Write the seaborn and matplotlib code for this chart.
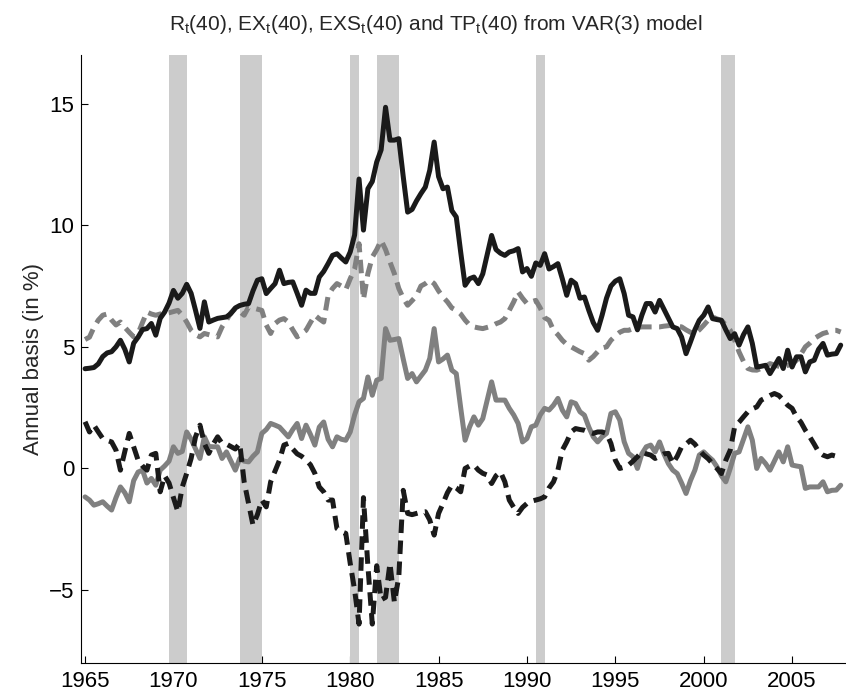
import numpy as np
import pandas as pd
import seaborn as sns
import matplotlib.pyplot as plt

# quarterly data, 1965Q1 - 2007Q4
years = np.arange(1965, 2008)
quarters = [0.0, 0.25, 0.5, 0.75]

r40 = [4.1, 4.12, 4.15, 4.3,  4.6, 4.75, 4.8, 5.0,  5.27, 4.9, 4.38, 5.15,
       5.4, 5.71, 5.75, 5.96,  5.48, 6.17, 6.43, 6.8,  7.32, 7.0, 7.2, 7.57,
       7.2, 6.5, 5.76, 6.85,  6.02, 6.1, 6.17, 6.2,  6.23, 6.37, 6.6, 6.7,
       6.75, 6.78, 7.3, 7.74,  7.8, 7.19, 7.4, 7.6,  8.15, 7.6, 7.65, 7.67,
       7.2, 6.71, 7.33, 7.2,  7.2, 7.87, 8.1, 8.42,  8.76, 8.83, 8.65, 8.49,
       8.9, 9.6, 11.9, 9.8,  11.5, 11.8, 12.6, 13.1,  14.85, 13.5, 13.5, 13.56,
       12.0, 10.54, 10.65, 11.0,  11.3, 11.57, 12.26, 13.42,  12.0, 11.5, 11.57, 10.6,
       10.34, 8.9, 7.53, 7.8,  7.87, 7.6, 8.0, 8.8,  9.58, 9.0, 8.85, 8.76,
       8.9, 8.95, 9.04, 8.08,  8.22, 7.9, 8.45, 8.35,  8.83, 8.2, 8.3, 8.42,
       7.8, 7.12, 7.74, 7.6,  7.0, 7.05, 6.5, 6.0,  5.68, 6.3, 7.0, 7.5,
       7.7, 7.8, 7.19, 6.3,  6.23, 5.7, 6.3, 6.78,  6.78, 6.43, 6.91, 6.55,
       6.2, 5.82, 5.75, 5.4,  4.72, 5.2, 5.7, 6.09,  6.3, 6.64, 6.16, 6.12,
       6.09, 5.7, 5.34, 5.54,  5.07, 5.5, 5.82, 5.14,  4.17, 4.2, 4.24, 3.9,
       4.2, 4.52, 4.11, 4.86,  4.17, 4.59, 4.59, 3.97,  4.38, 4.45, 4.9, 5.14,
       4.66, 4.7, 4.72, 5.07]

ex40 = [5.3, 5.4, 5.8, 6.1,  6.3, 6.35, 6.1, 5.9,  6.02, 5.8, 5.6, 5.41,
        5.55, 6.0, 6.43, 6.35,  6.3, 6.35, 6.37, 6.4,  6.45, 6.5, 6.3, 6.02,
        5.68, 5.5, 5.41, 5.55,  5.5, 5.45, 5.41, 5.82,  6.1, 6.4, 6.57, 6.45,
        6.3, 6.64, 6.6, 6.55,  6.5, 5.9, 5.55, 5.96,  6.1, 6.16, 6.02, 5.7,
        5.41, 5.55, 5.68, 6.0,  6.3, 6.15, 6.02, 7.1,  7.4, 7.6, 7.5, 7.35,
        7.8, 8.2, 9.24, 6.95,  8.01, 8.69, 9.0, 9.38,  9.0, 8.49, 8.01, 7.4,
        7.0, 6.71, 6.9, 7.1,  7.5, 7.6, 7.74, 7.6,  7.3, 7.05, 6.85, 6.6,
        6.5, 6.35, 6.1, 5.9,  5.82, 5.78, 5.75, 5.8,  5.85, 5.95, 6.02, 6.16,
        6.5, 6.85, 7.26, 7.0,  6.78, 6.85, 6.91, 6.6,  6.2, 6.09, 5.68, 5.5,
        5.27, 5.1, 5.0, 4.9,  4.8, 4.72, 4.45, 4.6,  4.8, 4.95, 5.0, 5.27,
        5.45, 5.6, 5.68, 5.68,  5.75, 5.8, 5.82, 5.82,  5.82, 5.82, 5.82, 5.85,
        5.87, 5.89, 5.85, 5.82,  5.7, 5.6, 5.55, 5.7,  5.89, 6.1, 6.23, 6.15,
        6.09, 5.9, 5.68, 5.27,  4.79, 4.4, 4.11, 4.05,  4.04, 4.11, 4.2, 4.31,
        4.25, 4.2, 4.17, 4.24,  4.3, 4.45, 4.7, 5.0,  5.15, 5.34, 5.45, 5.55,
        5.6, 5.68, 5.68, 5.61]

exs40 = [1.92, 1.5, 1.78, 1.5,  1.23, 1.15, 1.09, 0.75,  -0.07, 0.7, 1.44, 0.89,
         0.34, 0.1, -0.07, 0.55,  0.62, -0.96, -0.3, -0.6,  -1.2, -1.78, -0.76, -0.2,
         0.41, 1.3, 1.78, 1.03,  0.62, 1.0, 1.3, 1.03,  1.0, 0.9, 0.8, 1.03,
         -0.55, -1.44, -2.33, -1.9,  -1.3, -1.58, -0.55, -0.1,  0.34, 0.96, 1.03, 0.8,
         0.6, 0.5, 0.35, 0.15,  -0.2, -0.76, -0.96, -1.3,  -1.3, -2.47, -2.6, -2.67,
         -3.9, -5.0, -6.4, -1.2,  -4.0, -6.4, -4.0, -5.4,  -5.3, -3.9, -5.5, -4.45,
         -0.9, -1.85, -1.9, -1.85,  -1.8, -1.78, -2.12, -2.74,  -1.85, -1.44, -1.0, -0.69,
         -0.8, -0.96, 0.0, 0.1,  0.14, -0.07, -0.2, -0.27,  -0.62, -0.3, -0.14, -0.55,
         -1.3, -1.6, -1.85, -1.6,  -1.44, -1.35, -1.3, -1.25,  -1.17, -0.8, -0.55, -0.07,
         0.75, 1.09, 1.5, 1.64,  1.6, 1.57, 1.5, 1.44,  1.5, 1.5, 1.44, 1.03,
         0.34, 0.0, 0.05, 0.14,  0.3, 0.48, 0.68, 0.6,  0.55, 0.41, 0.5, 0.6,
         0.62, 0.2, 0.5, 0.89,  1.0, 1.16, 1.0, 0.75,  0.55, 0.4, 0.2, 0.0,
         -0.21, 0.34, 0.75, 1.71,  1.9, 2.12, 2.33, 2.45,  2.53, 2.81, 2.9, 3.0,
         3.08, 3.0, 2.81, 2.6,  2.47, 2.12, 1.9, 1.57,  1.3, 1.0, 0.68, 0.55,
         0.48, 0.55, 0.5, 0.5]

tp40 = [-1.17, -1.3, -1.51, -1.45,  -1.37, -1.55, -1.71, -1.2,  -0.76, -1.0, -1.37, -0.5,
        -0.15, -0.07, -0.6, -0.41,  -0.69, -0.07, 0.1, 0.3,  0.89, 0.62, 0.7, 1.5,
        1.2, 0.8, 0.41, 1.3,  0.9, 0.89, 0.89, 0.41,  0.68, 0.3, -0.07, 0.41,
        0.3, 0.27, 0.5, 0.68,  1.44, 1.6, 1.85, 1.78,  1.7, 1.5, 1.3, 1.6,
        1.85, 1.23, 1.78, 1.4,  0.96, 1.7, 1.91, 1.2,  0.89, 1.3, 1.2, 1.16,
        1.5, 2.2, 2.74, 2.88,  3.76, 3.01, 3.63, 3.7,  5.75, 5.27, 5.3, 5.34,
        4.5, 3.7, 3.9, 3.56,  3.8, 4.04, 4.52, 5.75,  4.38, 4.5, 4.66, 4.04,
        3.9, 2.5, 1.16, 1.7,  2.12, 1.78, 2.05, 2.8,  3.56, 2.81, 2.81, 2.81,
        2.47, 2.2, 1.85, 1.09,  1.23, 1.71, 1.78, 2.2,  2.47, 2.4, 2.6, 2.88,
        2.4, 2.12, 2.74, 2.67,  2.33, 2.19, 1.7, 1.3,  1.09, 1.3, 1.44, 2.26,
        2.33, 1.99, 1.1, 0.62,  0.48, 0.0, 0.6, 0.89,  0.96, 0.68, 1.09, 0.6,
        0.2, -0.07, -0.21, -0.6,  -1.03, -0.5, -0.07, 0.55,  0.68, 0.5, 0.34, 0.07,
        -0.3, -0.55, 0.0, 0.62,  0.68, 1.2, 1.71, 1.16,  0.0, 0.41, 0.2, -0.07,
        0.3, 0.68, 0.27, 0.89,  0.14, 0.1, 0.07, -0.82,  -0.76, -0.76, -0.76, -0.55,
        -0.96, -0.9, -0.89, -0.69]

recessions = [(1969.75, 1970.75), (1973.75, 1975.0), (1980.0, 1980.5),
              (1981.5, 1982.75), (1990.5, 1991.0), (2001.0, 2001.75)]
xticks = [1965, 1970, 1975, 1980, 1985, 1990, 1995, 2000, 2005]
yticks = [-5, 0, 5, 10, 15]

dates = [y + q for y in years for q in quarters]
df = pd.DataFrame({'date': dates, 'R': r40, 'EX': ex40, 'EXS': exs40, 'TP': tp40})

sns.set_style('ticks')
plt.rcParams['font.family'] = ['Liberation Sans', 'DejaVu Sans']
plt.rcParams['mathtext.default'] = 'regular'

fig = plt.figure(figsize=(8.46, 7.0), dpi=100)
ax = fig.add_axes([81/846, 37/700, 765/846, 608/700])

for a, b in recessions:
    ax.axvspan(a, b, color='#cccccc', lw=0, zorder=1)

dash = (0, (2.7, 1.5))
sns.lineplot(data=df, x='date', y='TP', ax=ax, color='#808080', lw=3.6, zorder=3)
sns.lineplot(data=df, x='date', y='EXS', ax=ax, color='#1a1a1a', lw=3.6, linestyle=dash, zorder=3)
sns.lineplot(data=df, x='date', y='EX', ax=ax, color='#808080', lw=3.6, linestyle=dash, zorder=3)
sns.lineplot(data=df, x='date', y='R', ax=ax, color='#1a1a1a', lw=3.6, zorder=4)

ax.set_xlim(1964.77, 2008.05)
ax.set_ylim(-8, 17)
ax.set_xticks(xticks)
ax.set_yticks(yticks)
ax.set_yticklabels(['\u22125', '0', '5', '10', '15'])
ax.set_xlabel('')
ax.set_ylabel('')
ax.tick_params(direction='in', length=5, width=0.8, labelsize=16, colors='black')
ax.tick_params(axis='x', pad=6)
ax.tick_params(axis='y', pad=5)
sns.despine(ax=ax)
for s in ['left', 'bottom']:
    ax.spines[s].set_linewidth(0.8)
    ax.spines[s].set_color('black')

fig.text(33/846, 0.487, 'Annual basis (in %)', rotation=90, ha='center', va='center', fontsize=16)
fig.text(436/846, 1 - 30/700,
         r'R$_t$(40), EX$_t$(40), EXS$_t$(40) and TP$_t$(40) from VAR(3) model',
         ha='center', va='baseline', fontsize=15)

fig.savefig('out.png', dpi=100)
